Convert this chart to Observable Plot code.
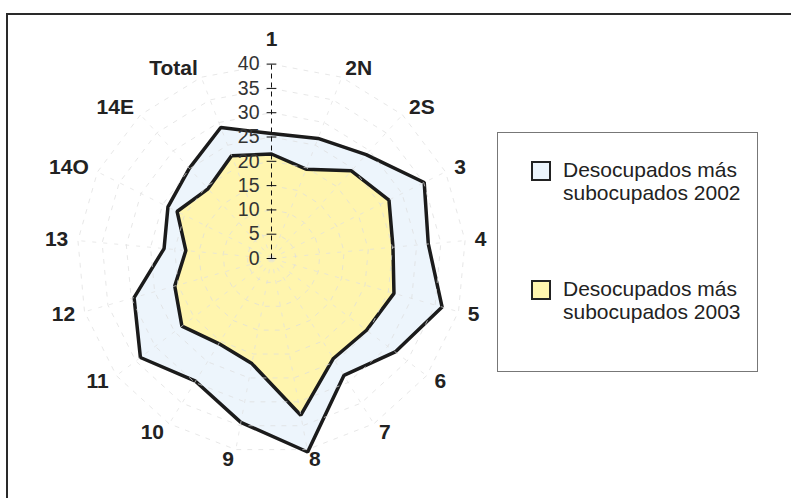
<!DOCTYPE html>
<html>
<head>
<meta charset="utf-8">
<script src="https://cdn.jsdelivr.net/npm/d3@7"></script>
<script src="https://cdn.jsdelivr.net/npm/@observablehq/plot@0.6"></script>
<style>
  html, body { margin: 0; padding: 0; background: #fff; overflow: hidden; }
  #wrap { position: relative; width: 791px; height: 498px; overflow: hidden; font-family: "Liberation Sans", Arial, sans-serif; }
  #frame { position: absolute; left: 6px; top: 13px; width: 900px; height: 600px; border-top: 2px solid #2a2a2a; border-left: 2px solid #2a2a2a; pointer-events: none; }
  #chart { position: absolute; left: 0; top: 0; }
  #legend { position: absolute; left: 497px; top: 132px; width: 261px; height: 240px; box-sizing: border-box; border: 1px solid #777; background: #fff; }
  .sw { position: absolute; left: 33px; width: 20px; height: 20px; box-sizing: border-box; border: 2.5px solid #222; }
  .tx { position: absolute; left: 65px; font-size: 21px; line-height: 23px; color: #222; white-space: nowrap; }
</style>
</head>
<body>
<div id="wrap">
  <div id="chart"></div>
  <div id="frame"></div>
  <div id="legend"></div>
</div>
<script>
// ---- data ----
const labels = ["1","2N","2S","3","4","5","6","7","8","9","10","11","12","13","14O","14E","Total"];
const v2002 = [25.7, 26.5, 28.9, 35.1, 32.4, 36.5, 31.9, 28.3, 40.5, 34.3, 29.7, 33.8, 29.4, 22.2, 23.8, 25.1, 28.9];
const v2003 = [21.5, 19.7, 24.4, 27.0, 25.1, 26.2, 24.5, 24.2, 32.8, 22.0, 20.6, 23.1, 20.7, 17.7, 21.7, 19.4, 22.7];
const gridLevels = [5, 10, 15, 20, 25, 30, 35, 40];
const tickValues = [0, 5, 10, 15, 20, 25, 30, 35, 40];
const seriesNames = ["Desocupados más\nsubocupados 2002", "Desocupados más\nsubocupados 2003"];
const seriesFill = ["#EDF5FC", "#FFF5AE"];

// ---- geometry helpers ----
const W = 791, H = 498, cx = 271, cy = 258, k = 4.86;
const n = labels.length;
const ang = i => i * 2 * Math.PI / n;
const pt = (i, r) => ({x: r * Math.sin(ang(i)), y: r * Math.cos(ang(i))});

const poly2002 = v2002.map((v, i) => ({...pt(i, v), i}));
const poly2003 = v2003.map((v, i) => ({...pt(i, v), i}));
const grid = gridLevels.flatMap(l => labels.map((_, i) => ({...pt(i, l), level: l})));
const spokes = labels.map((_, i) => ({i, ...pt(i, 40)}));
const labelPts = labels.map((t, i) => ({t, i, s: Math.sin(ang(i)), ...pt(i, 42)}));

const fontFam = "'Liberation Sans', Arial, sans-serif";

const chart = Plot.plot({
  width: W, height: H, margin: 0,
  x: {domain: [-cx / k, (W - cx) / k], axis: null},
  y: {domain: [-(H - cy) / k, cy / k], axis: null},
  style: {fontFamily: fontFam, background: "transparent"},
  marks: [
    Plot.line(poly2002, {x: "x", y: "y", curve: "linear-closed", fill: seriesFill[0], stroke: "#1b1b1b", strokeWidth: 3.5, strokeLinejoin: "miter"}),
    Plot.line(poly2003, {x: "x", y: "y", curve: "linear-closed", fill: seriesFill[1], stroke: "#1b1b1b", strokeWidth: 3.5, strokeLinejoin: "miter"}),
    Plot.line(grid, {x: "x", y: "y", z: "level", curve: "linear-closed", stroke: "#dcdcdc", strokeWidth: 0.7, strokeDasharray: "4,7"}),
    Plot.link(spokes.filter(d => d.i !== 0), {x1: 0, y1: 0, x2: "x", y2: "y", stroke: "#e0e0e0", strokeWidth: 0.7, strokeDasharray: "4,7"}),
    Plot.link(spokes.filter(d => d.i === 0), {x1: 0, y1: 0, x2: "x", y2: "y", stroke: "#111", strokeWidth: 1, strokeDasharray: "5,4"}),
    Plot.link(tickValues, {x1: -1, x2: 1, y1: d => d, y2: d => d, stroke: "#111", strokeWidth: 1}),
    Plot.text(tickValues, {x: 0, y: d => d, text: d => String(d), textAnchor: "end", dx: -12, fontSize: 19.5, fill: "#333"}),
    Plot.text(labelPts.filter(d => d.i === 0), {x: "x", y: "y", text: "t", textAnchor: "middle", lineAnchor: "bottom", dy: -8, fontSize: 21, fontWeight: "bold", fill: "#222"}),
    Plot.text(labelPts.filter(d => d.i !== 0 && d.s > 0), {x: "x", y: "y", text: "t", textAnchor: "start", lineAnchor: "middle", fontSize: 21, fontWeight: "bold", fill: "#222"}),
    Plot.text(labelPts.filter(d => d.s < 0), {x: "x", y: "y", text: "t", textAnchor: "end", lineAnchor: "middle", fontSize: 21, fontWeight: "bold", fill: "#222"})
  ]
});
document.getElementById("chart").appendChild(chart);

// ---- legend ----
const legend = document.getElementById("legend");
const tops = [25, 144];
seriesNames.forEach((name, j) => {
  const sw = document.createElement("div");
  sw.className = "sw";
  sw.style.top = (tops[j] + 3) + "px";
  sw.style.background = seriesFill[j];
  legend.appendChild(sw);
  const tx = document.createElement("div");
  tx.className = "tx";
  tx.style.top = tops[j] + "px";
  tx.innerHTML = name.split("\n").join("<br>");
  legend.appendChild(tx);
});
</script>
</body>
</html>
